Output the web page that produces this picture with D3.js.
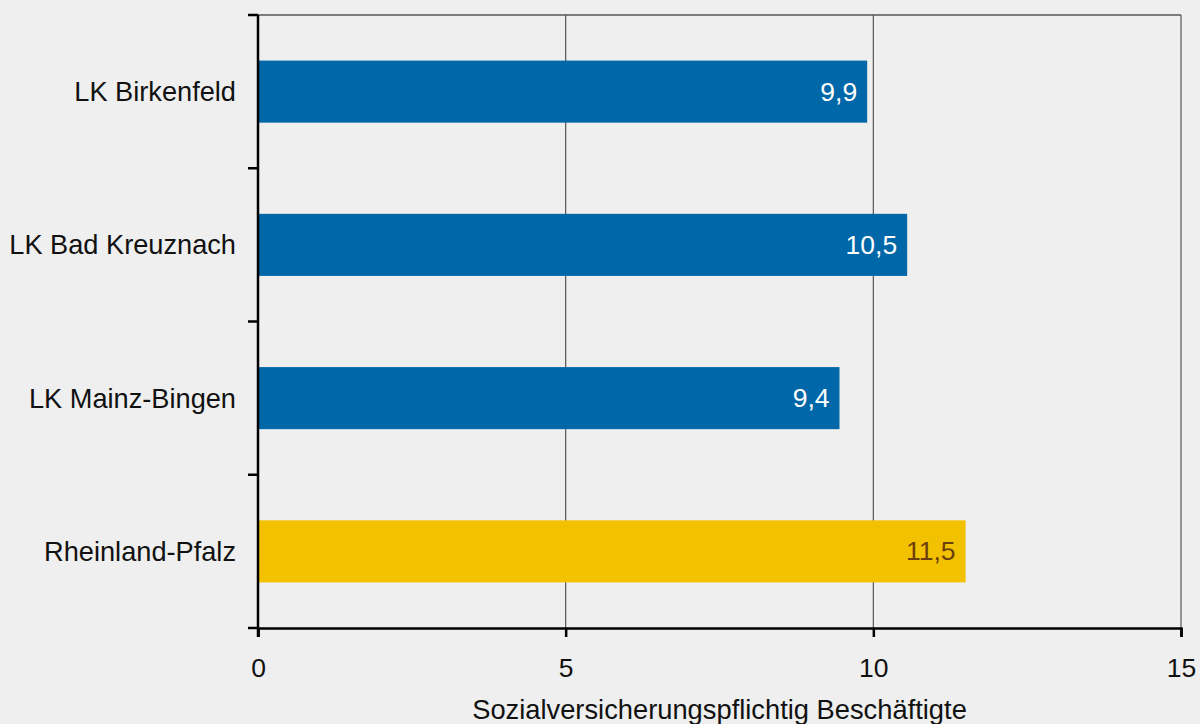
<!DOCTYPE html>
<html><head><meta charset="utf-8">
<script src="https://cdn.jsdelivr.net/npm/d3@7"></script>
<style>
html,body{margin:0;padding:0;background:#eeefee;}
text{font-family:"Liberation Sans",Arial,sans-serif;}
</style></head>
<body>
<svg id="c" width="1200" height="724"></svg>
<script>
const categories = ["LK Birkenfeld","LK Bad Kreuznach","LK Mainz-Bingen","Rheinland-Pfalz"];
const values = [9.9,10.55,9.45,11.5];
const labels = ["9,9","10,5","9,4","11,5"];
const xTicks = [0,5,10,15];
const axisTitle = "Sozialversicherungspflichtig Beschäftigte";

const svg = d3.select("#c");
const L=258, R=1181, T=15, B=628;
const FS=26.5;
const x = d3.scaleLinear().domain([0,15]).range([L,R]);
const y = d3.scaleBand().domain(categories).range([T,B]).paddingInner(0.595).paddingOuter(0.2975);

svg.append("rect").attr("width",1200).attr("height",724).attr("fill","#eeefee");

// grid lines
svg.selectAll(".grid").data([5,10]).enter().append("line")
  .attr("x1",d=>x(d)).attr("x2",d=>x(d)).attr("y1",T).attr("y2",B)
  .attr("stroke","#555").attr("stroke-width",1.2);
// frame top & right
svg.append("line").attr("x1",L).attr("x2",R).attr("y1",T).attr("y2",T).attr("stroke","#555").attr("stroke-width",1.5);
svg.append("line").attr("x1",R).attr("x2",R).attr("y1",T).attr("y2",B).attr("stroke","#555").attr("stroke-width",1.2);

// bars
svg.selectAll(".bar").data(categories).enter().append("rect")
  .attr("x",x(0)).attr("y",d=>y(d))
  .attr("width",(d,i)=>x(values[i])-x(0)).attr("height",y.bandwidth())
  .attr("fill",(d,i)=>i===3?"#f2c100":"#0067a8");

svg.selectAll(".val").data(categories).enter().append("text")
  .attr("x",(d,i)=>x(values[i])-10).attr("y",d=>y(d)+y.bandwidth()/2+9)
  .attr("text-anchor","end").attr("font-size",FS)
  .attr("fill",(d,i)=>i===3?"#6b400c":"#ffffff")
  .text((d,i)=>labels[i]);

// x axis
const xa = svg.append("g").attr("transform",`translate(0,${B})`)
  .call(d3.axisBottom(x).tickValues(xTicks).tickSize(9).tickPadding(21).tickFormat(d=>d));
xa.select(".domain").attr("stroke","#000").attr("stroke-width",2.5);
xa.selectAll(".tick line").attr("stroke","#000").attr("stroke-width",2.5);
xa.selectAll("text").attr("font-size",FS).attr("fill","#111").attr("font-family","Liberation Sans, Arial, sans-serif");

// y axis
const yTickPos = d3.range(categories.length+1).map(i=>T+i*(B-T)/categories.length);
svg.append("line").attr("x1",L).attr("x2",L).attr("y1",T).attr("y2",B+9).attr("stroke","#000").attr("stroke-width",2.5);
svg.selectAll(".yt").data(yTickPos).enter().append("line")
  .attr("x1",L-10).attr("x2",L).attr("y1",d=>d).attr("y2",d=>d)
  .attr("stroke","#000").attr("stroke-width",2.5);
svg.selectAll(".yl").data(categories).enter().append("text")
  .attr("x",236).attr("y",d=>y(d)+y.bandwidth()/2+9.5)
  .attr("text-anchor","end").attr("font-size",27.2).attr("fill","#111")
  .text(d=>d);

svg.append("text").attr("x",(L+R)/2).attr("y",719).attr("text-anchor","middle")
  .attr("font-size",27.3).attr("fill","#111").text(axisTitle);
</script>
</body></html>
